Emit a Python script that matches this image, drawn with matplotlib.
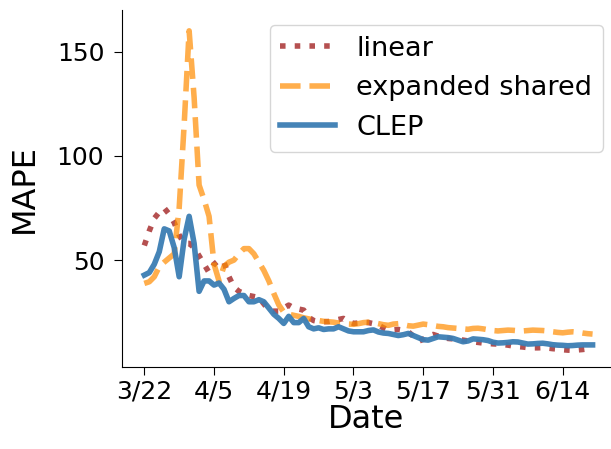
import matplotlib
matplotlib.use("Agg")
import matplotlib.pyplot as plt
import pandas as pd

start_date = "2020-03-22"
n_days = 91

linear = [57, 64, 70, 73, 75, 72, 68, 62, 58, 58,
          56, 52, 48, 44, 48, 50, 49, 42, 37, 35,
          34, 33, 32.5, 32, 29, 26, 25.5, 25.5, 27, 28.4,
          27, 26.5, 26, 22.5, 21, 20.5, 20.4, 20.5, 21, 21.5,
          22, 20.5, 19.6, 19.8, 20.1, 20, 19.5, 18.8, 17.5, 16.4,
          16.5, 16.7, 16.3, 15.6, 13.5, 11, 12, 13.5, 14.3, 13.5,
          12.8, 12.4, 12.2, 12.0, 11.6, 11.2, 10.8, 10.5, 10.2, 10.0,
          9.8, 9.7, 9.5, 9.2, 8.8, 8.5, 8.3, 8.0, 7.9, 7.9,
          8.0, 7.8, 7.5, 7.3, 7.0, 6.8, 6.7, 6.9, 7.1, 7.4,
          7.8]

expanded_shared = [38.8, 39.6, 42, 46.8, 49, 51, 53, 75, 115, 160,
                   128, 86, 79, 71, 48, 40, 47, 49, 50, 53,
                   55.5, 55.5, 53, 49, 45, 40, 34, 28.5, 25, 24,
                   23.5, 23, 22.3, 21.8, 21.3, 21, 20.6, 20.4, 20.2, 19.8,
                   19.6, 19.3, 19.2, 19.5, 20, 20.2, 20, 19.5, 19, 18.7,
                   19.3, 19.5, 19, 18.5, 18.3, 18.8, 19.3, 19, 18.6, 18.2,
                   18, 17.6, 17.4, 17.2, 17, 16.8, 17.2, 17.3, 17.0, 16.6,
                   16.2, 16.0, 16.2, 16.4, 16.3, 16.1, 16.0, 16.2, 16.4, 16.3,
                   16.2, 16.0, 15.6, 15.3, 15.1, 15.4, 15.6, 15.4, 15.0, 14.7,
                   14.5]

clep = [42.8, 44, 48, 54, 65, 64, 56, 42, 60, 71,
        58, 35, 40, 40, 38, 39, 36, 30, 31.6, 33,
        33, 30, 30, 31, 30, 27, 24, 22, 19.6, 23,
        20, 20, 22, 18, 17, 17.5, 16.7, 17, 17, 18,
        17, 16, 15.6, 15.6, 15.6, 16.2, 16.5, 15.5, 15.0, 14.8,
        14.3, 13.8, 14.2, 14.8, 13.8, 12.8, 11.8, 11.6, 12.4, 13.2,
        13.0, 12.8, 12.4, 11.6, 10.8, 11.2, 12.2, 12.0, 11.8, 11.4,
        10.6, 10.2, 10.3, 10.5, 10.8, 10.7, 10.2, 9.7, 9.8, 10.0,
        10.1, 9.8, 9.4, 9.2, 9.1, 8.9, 9.0, 9.2, 9.3, 9.3,
        9.3]

tick_dates = ["2020-03-22", "2020-04-05", "2020-04-19", "2020-05-03",
              "2020-05-17", "2020-05-31", "2020-06-14"]
tick_labels = ["3/22", "4/5", "4/19", "5/3", "5/17", "5/31", "6/14"]
y_ticks = [50, 100, 150]

dates = pd.date_range(start_date, periods=n_days)

fig = plt.figure(figsize=(6.11, 4.49), dpi=100)
ax = fig.add_axes([121.7 / 611, 1 - 367 / 449, 1 - 121.7 / 611, (367 - 10) / 449])

lw = 4
ax.plot(dates, linear, linestyle=':', color='#A52A2A', alpha=0.82, lw=lw, label='linear')
ax.plot(dates, expanded_shared, linestyle='--', color='darkorange', alpha=0.7, lw=lw,
        label='expanded shared')
ax.plot(dates, clep, linestyle='-', color='#3b7db3', alpha=0.95, lw=lw, label='CLEP')

t0 = pd.Timestamp(start_date)
ax.set_xlim(t0 - pd.Timedelta(days=4.54), t0 + pd.Timedelta(days=93.7))
ax.set_ylim(-1.3, 170)

ax.set_xticks(pd.to_datetime(tick_dates))
ax.set_xticklabels(tick_labels)
ax.set_yticks(y_ticks)
ax.tick_params(axis='both', labelsize=18, length=5.5)
ax.tick_params(axis='y', pad=7)

ax.spines['top'].set_visible(False)
ax.spines['right'].set_visible(False)

ax.set_xlabel('Date', fontsize=23, labelpad=0)
ax.set_ylabel('MAPE', fontsize=23, labelpad=12)

leg = ax.legend(loc='upper right', bbox_to_anchor=(603 / 611, 1 - 25 / 449),
                bbox_transform=fig.transFigure, borderaxespad=0, fontsize=19.5,
                framealpha=0.8)

fig.savefig('out.png', dpi=100)
